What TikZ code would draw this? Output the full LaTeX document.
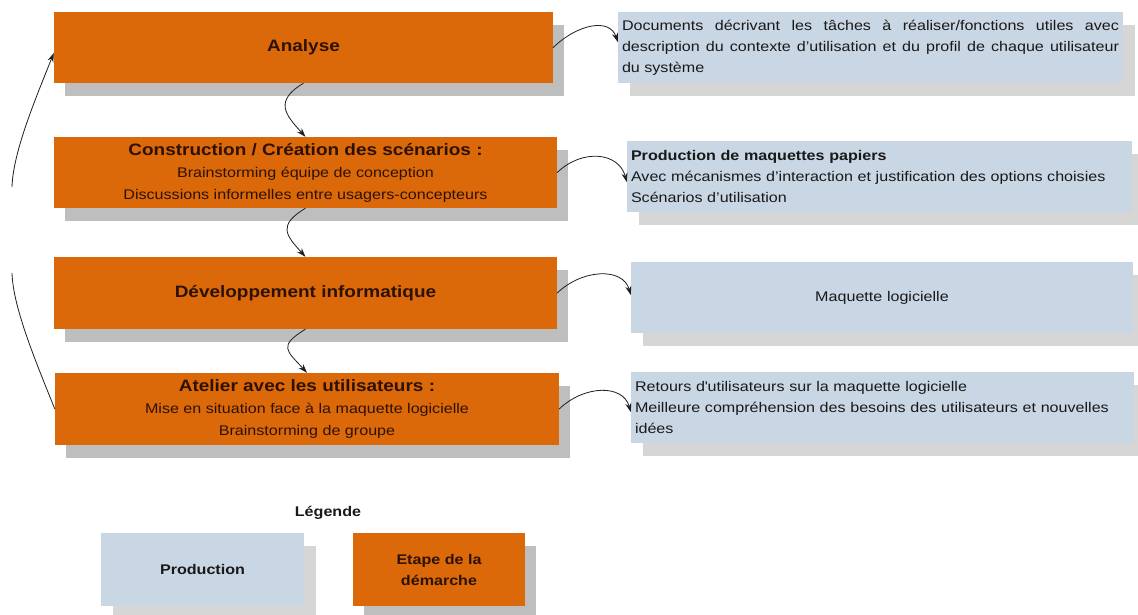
\documentclass[tikz,border=0pt]{standalone}
\usepackage{fontspec}
\setmainfont{Liberation Sans}[FakeStretch=1.15]
\usetikzlibrary{shadows,arrows.meta}
\definecolor{orangeC}{RGB}{219,104,9}
\definecolor{blueC}{RGB}{201,214,228}
\definecolor{shadowO}{RGB}{190,190,190}
\definecolor{shadowB}{RGB}{214,214,214}
\definecolor{txtO}{RGB}{45,18,4}
\definecolor{txtB}{RGB}{25,25,25}
\definecolor{lineC}{RGB}{30,30,30}
\newcommand{\ttlfont}{\fontsize{16.5}{22}\selectfont\bfseries}
\newcommand{\bodyfont}{\fontsize{14}{21}\selectfont}
\begin{document}
\begin{tikzpicture}[x=1pt,y=-1pt,
  etape/.style={rectangle, fill=orangeC, text=txtO, inner sep=0pt, align=center,
    font=\fontsize{14}{22}\selectfont,
    general shadow={fill=shadowO, shadow xshift=11pt, shadow yshift=-13pt}},
  prod/.style={rectangle, fill=blueC, text=txtB, inner ysep=0pt, inner xsep=4pt,
    font=\bodyfont,
    general shadow={fill=shadowB, shadow xshift=12pt, shadow yshift=-13pt}},
  conn/.style={draw=lineC, line width=0.8pt, -{Stealth[length=9pt,width=6pt]}},
  plainline/.style={draw=lineC, line width=0.8pt}]
\useasboundingbox[fill=white] (0,0) rectangle (1138,615);

% steps
\node[etape, minimum width=499pt, minimum height=71pt] (an) at (303.5,47.5)
  {\ttlfont Analyse};
\node[etape, minimum width=503pt, minimum height=71pt] (co) at (305.5,172.5)
  {{\ttlfont Construction / Création des scénarios :}\\
   Brainstorming équipe de conception\\
   Discussions informelles entre usagers-concepteurs};
\node[etape, minimum width=503pt, minimum height=72pt] (de) at (305.5,293)
  {\ttlfont Développement informatique};
\node[etape, minimum width=504pt, minimum height=72pt] (at) at (307,409)
  {{\ttlfont Atelier avec les utilisateurs :}\\
   Mise en situation face à la maquette logicielle\\
   Brainstorming de groupe};

% productions
\node[prod, text width=497pt, align=justify, minimum height=71pt] (b1) at (870.5,47.5)
  {Documents décrivant les tâches à réaliser/fonctions utiles avec\linebreak
   description du contexte d’utilisation et du profil de chaque utilisateur\linebreak
   du système};
\node[prod, text width=497pt, align=left, minimum height=71pt] (b2) at (879.5,176.5)
  {\textbf{Production de maquettes papiers}\\
   Avec mécanismes d’interaction et justification des options choisies\\
   Scénarios d’utilisation};
\node[prod, text width=494pt, align=center, minimum height=71pt] (b3) at (882,297.5)
  {Maquette logicielle};
\node[prod, text width=495pt, align=left, minimum height=71pt] (b4) at (882.5,407.5)
  {Retours d\textquotesingle utilisateurs sur la maquette logicielle\\
   Meilleure compréhension des besoins des utilisateurs et nouvelles\\
   idées};

% legend
\node[font=\fontsize{14}{21}\selectfont\bfseries, text=txtB] (lg) at (328,513) {Légende};
\node[prod, minimum width=203pt, minimum height=73pt, align=center,
  font=\fontsize{14}{21}\selectfont\bfseries] (lp) at (202.5,569.5) {Production};
\node[etape, minimum width=172pt, minimum height=73pt,
  font=\fontsize{14}{21}\selectfont\bfseries] (le) at (439,569.5) {Etape de la\\démarche};

% vertical connectors
\draw[conn] (an.south) .. controls +(-30,18) and +(-20,-22) .. (co.north);
\draw[conn] (co.south) .. controls +(-28,17) and +(-20,-22) .. (de.north);
\draw[conn] (de.south) .. controls +(-28,17) and +(-20,-22) .. (at.north);

% horizontal connectors
\draw[conn] (an.east) .. controls +(25,-24) and +(-8,-24) .. ([yshift=5.5pt]b1.west);
\draw[conn] (co.east) .. controls +(25,-24) and +(-8,-30) .. ([yshift=-5.5pt]b2.west);
\draw[conn] (de.east) .. controls +(25,-24) and +(-8,-28) .. ([yshift=2.5pt]b3.west);
\draw[conn] (at.east) .. controls +(25,-24) and +(-8,-28) .. ([yshift=-4.5pt]b4.west);

% feedback loop (interrupted)
\coordinate (g1) at (12,273);
\coordinate (g2) at (12,187);
\draw[plainline] (at.west) .. controls +(-18,-45) and +(1,35) .. (g1);
\draw[conn] (g2) .. controls +(1,-35) and +(-18,45) .. ([yshift=-5.5pt]an.west);
\end{tikzpicture}
\end{document}
